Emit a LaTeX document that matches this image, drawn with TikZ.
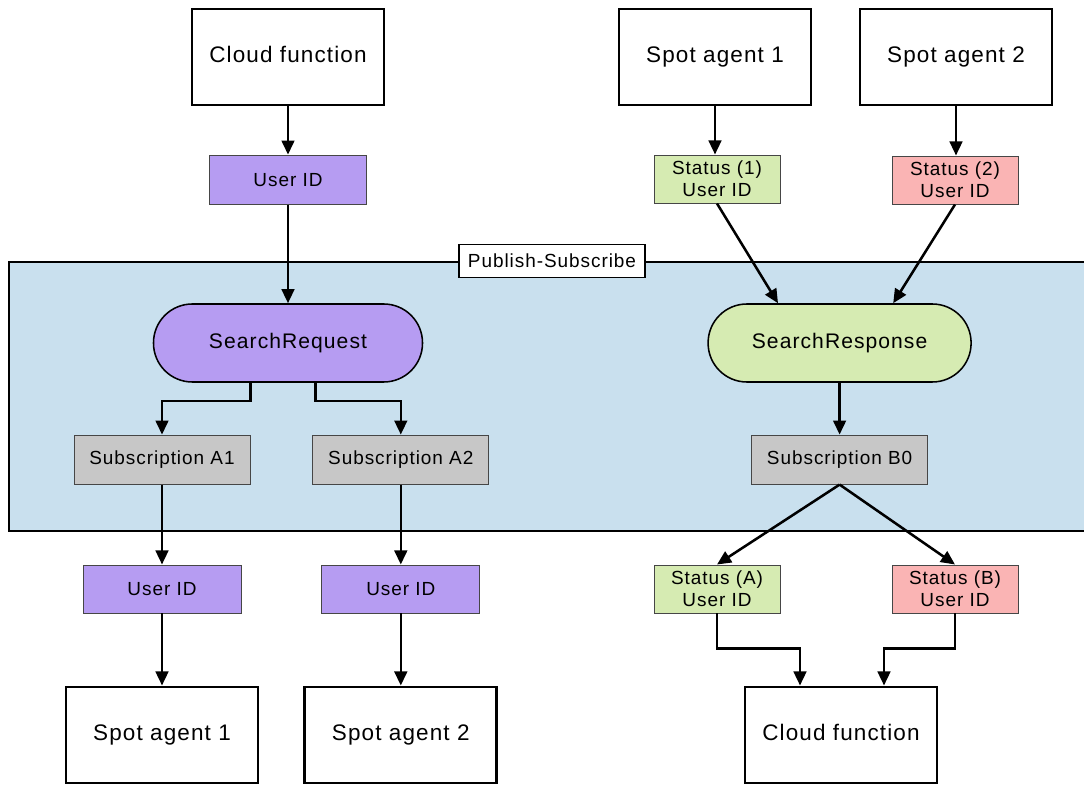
\documentclass[tikz,border=0pt]{standalone}
\usepackage{fontspec}
\setmainfont[LetterSpace=5]{Liberation Sans}
\usepackage{xcolor}
\usepackage{tikz}
\usetikzlibrary{arrows.meta}

\definecolor{reqpurple}{RGB}{182,156,242}
\definecolor{okgreen}{RGB}{214,235,178}
\definecolor{badred}{RGB}{250,180,180}
\definecolor{subgray}{RGB}{199,199,199}
\definecolor{psblue}{RGB}{201,224,238}
\definecolor{thinline}{RGB}{70,70,70}

\tikzset{
  bigbox/.style={draw, line width=2.1pt, fill=white, minimum width=4.8cm,
    minimum height=2.4cm, inner sep=0pt, text height=11.5pt, text depth=3.5pt,
    font=\fontsize{16}{19}\selectfont},
  msgbox/.style={draw=thinline, line width=0.7pt, minimum height=1.2cm,
    inner sep=0pt, align=center, font=\fontsize{13.5}{15.5}\selectfont},
  subbox/.style={msgbox, fill=subgray, minimum width=4.4cm, minimum height=1.225cm},
  topic/.style={draw, line width=1.1pt, rounded corners=0.97cm, minimum height=1.95cm,
    inner sep=0pt, font=\fontsize{15}{18}\selectfont},
  flow/.style={line width=1.8pt, -{Triangle[length=10pt,width=9pt]}}
}

\begin{document}
\begin{tikzpicture}
        \clip (0,0) rectangle (27.1,-19.7);

        % publish-subscribe area
        \draw [line width=2.1pt, fill=psblue] (0.225,-6.55) rectangle (27.6,-13.275);
        \node [draw, line width=1.1pt, fill=white, minimum width=4.65cm, minimum height=0.825cm,
          inner sep=0pt, font=\fontsize{13.5}{15.5}\selectfont] (pslabel) at (13.8,-6.525) {Publish-Subscribe};

        % senders
        \node [bigbox] (cloudtop) at (7.2,-1.425) {Cloud function};
        \node [bigbox] (agentonetop) at (17.875,-1.425) {Spot agent 1};
        \node [bigbox] (agenttwotop) at (23.9,-1.425) {Spot agent 2};

        % messages in
        \node [msgbox, fill=reqpurple, minimum width=3.925cm, minimum height=1.225cm] (uidtop) at (7.2,-4.49) {User ID};
        \node [msgbox, fill=okgreen, minimum width=3.15cm] (statone) at (17.925,-4.475) {Status (1)\\User ID};
        \node [msgbox, fill=badred, minimum width=3.15cm] (stattwo) at (23.875,-4.5) {Status (2)\\User ID};

        % topics
        \node [topic, fill=reqpurple, minimum width=6.725cm] (searchreq) at (7.2,-8.575) {SearchRequest};
        \node [topic, fill=okgreen, minimum width=6.575cm] (searchresp) at (20.99,-8.575) {SearchResponse};

        % subscriptions
        \node [subbox] (subaone) at (4.05,-11.49) {Subscription A1};
        \node [subbox] (subatwo) at (10.02,-11.49) {Subscription A2};
        \node [subbox] (subbzero) at (20.99,-11.49) {Subscription B0};

        % messages out
        \node [msgbox, fill=reqpurple, minimum width=3.95cm] (uidone) at (4.05,-14.725) {User ID};
        \node [msgbox, fill=reqpurple, minimum width=3.95cm] (uidtwo) at (10.02,-14.725) {User ID};
        \node [msgbox, fill=okgreen, minimum width=3.15cm] (stata) at (17.925,-14.725) {Status (A)\\User ID};
        \node [msgbox, fill=badred, minimum width=3.15cm] (statb) at (23.875,-14.725) {Status (B)\\User ID};

        % receivers
        \node [bigbox] (agentonebot) at (4.05,-18.375) {Spot agent 1};
        \node [bigbox] (agenttwobot) at (10.02,-18.375) {Spot agent 2};
        \node [bigbox] (cloudbot) at (21.025,-18.375) {Cloud function};

        % request path
        \draw [flow] (cloudtop) -- (uidtop);
        \draw [flow] (uidtop) -- (searchreq);
        \draw [flow] ([xshift=-0.94cm]searchreq.south) -- ++(0,-0.45) -| (subaone.north);
        \draw [flow] ([xshift=0.69cm]searchreq.south) -- ++(0,-0.45) -| (subatwo.north);
        \draw [flow] (subaone) -- (uidone);
        \draw [flow] (uidone) -- (agentonebot);
        \draw [flow] (subatwo) -- (uidtwo);
        \draw [flow] (uidtwo) -- (agenttwobot);

        % response path
        \draw [flow] (agentonetop) -- (statone.north -| agentonetop);
        \draw [flow] (agenttwotop) -- (stattwo.north -| agenttwotop);
        \draw [flow] (statone.south) -- ([xshift=-1.54cm]searchresp.north);
        \draw [flow] (stattwo.south) -- ([xshift=1.34cm]searchresp.north);
        \draw [flow] (searchresp) -- (subbzero);
        \draw [flow] (subbzero.south) -- (stata.north);
        \draw [flow] (subbzero.south) -- (statb.north);
        \draw [flow] (stata.south) -- ++(0,-0.875) -| ([xshift=-1.025cm]cloudbot.north);
        \draw [flow] (statb.south) -- ++(0,-0.875) -| ([xshift=1.075cm]cloudbot.north);

      \end{tikzpicture}
\end{document}
